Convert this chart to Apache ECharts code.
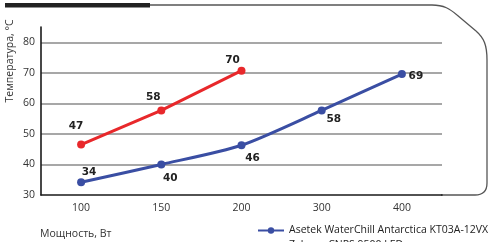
<!DOCTYPE html>
<html>
<head>
<meta charset="utf-8">
<script src="https://cdn.jsdelivr.net/npm/echarts@6/dist/echarts.min.js"></script>
<style>
  html, body { margin: 0; padding: 0; background: #fff; }
  #chart { width: 488px; height: 242px; }
</style>
</head>
<body>
<div id="chart"></div>
<script>
// мощность, Вт (категории)
var POWER = ["100", "150", "200", "300", "400"];
// температура, °C — положение точек и подписи
var ASETEK = [34.2, 40, 46.3, 57.7, 69.6];
var ASETEK_TXT = ["34", "40", "46", "58", "69"];
var ZALMAN = [46.5, 57.7, 70.7];
var ZALMAN_TXT = ["47", "58", "70"];
var Y_MIN = 30, Y_MAX = 85, Y_STEP = 10;
var NAMES = ["Asetek WaterChill Antarctica KT03A-12VX", "Zalman CNPS 9500 LED"];

var BLUE = "#3a4ea3", RED = "#e8282b";
var FONT = "'Open Sans', 'DejaVu Sans', sans-serif";

// смещения подписей от точек
var ASETEK_OFF = [[8, -10], [9, 14], [11, 13], [12, 9], [14, 2]];
var ZALMAN_OFF = [[-5, -18], [-8, -13], [-9, -10]];

function items(vals, offs) {
  return vals.map(function (v, i) {
    return { value: v, label: { offset: offs[i] } };
  });
}

// рамка справа и сверху
var FRAME = { fill: null, stroke: "#555", lineWidth: 1.3 };
function ln(x1, y1, x2, y2) {
  return { type: "line", shape: { x1: x1, y1: y1, x2: x2, y2: y2 }, style: FRAME };
}
function bz(x1, y1, c1x, c1y, c2x, c2y, x2, y2) {
  return { type: "bezierCurve",
           shape: { x1: x1, y1: y1, cpx1: c1x, cpy1: c1y, cpx2: c2x, cpy2: c2y, x2: x2, y2: y2 },
           style: FRAME };
}
// легенда: по одной строке, вторая обрезана краем
function leg(name, top) {
  return {
    left: 252, top: top, itemWidth: 26, itemHeight: 8,
    textStyle: { fontFamily: FONT, fontSize: 10.5, color: "#222" },
    data: [name]
  };
}

var chart = echarts.init(document.getElementById("chart"));
chart.setOption({
  animation: false,
  backgroundColor: "#fff",
  grid: { left: 41, right: 46, top: 27, bottom: 47 },
  legend: [leg(NAMES[0], 220), leg(NAMES[1], 235)],
  xAxis: {
    type: "category", data: POWER, boundaryGap: true,
    axisLine: { lineStyle: { color: "#1a1a1a", width: 1.6 } },
    axisTick: { alignWithLabel: true, length: 3, lineStyle: { color: "#333" } },
    axisLabel: { fontFamily: FONT, fontSize: 10.5, color: "#333", margin: 8 }
  },
  yAxis: {
    type: "value", min: Y_MIN, max: Y_MAX, interval: Y_STEP,
    axisLine: { show: true, lineStyle: { color: "#1a1a1a", width: 1.6 } },
    axisTick: { show: false },
    axisLabel: { fontFamily: FONT, fontSize: 10.5, color: "#333", margin: 6,
                 showMaxLabel: false },
    splitLine: { showMinLine: false, showMaxLine: false,
                 lineStyle: { color: "#8a8a8a", width: 1.5 } }
  },
  graphic: [
    { type: "rect", shape: { x: 5, y: 3, width: 145, height: 4.5 },
      style: { fill: "#222" } },
    ln(150, 5, 432, 5),
    bz(432, 5, 444, 5, 450, 9, 457, 15),
    ln(457, 15, 476, 31),
    bz(476, 31, 484, 38, 487, 45, 487, 60),
    ln(487, 60, 487, 183),
    bz(487, 183, 487, 191, 483, 195, 475, 195),
    ln(475, 195, 441, 195),
    { type: "text", x: 10, y: 61, rotation: Math.PI / 2,
      style: { text: "Температура, °C", fontFamily: FONT, fontSize: 10.5,
               fill: "#333", align: "center", verticalAlign: "middle" } },
    { type: "text", x: 40, y: 234,
      style: { text: "Мощность, Вт", fontFamily: FONT, fontSize: 10.5,
               fill: "#333", align: "left", verticalAlign: "middle" } }
  ],
  series: [
    {
      name: NAMES[0],
      type: "line", data: items(ASETEK, ASETEK_OFF), smooth: 0.25,
      symbol: "circle", symbolSize: 8,
      itemStyle: { color: BLUE }, lineStyle: { color: BLUE, width: 3 },
      label: {
        show: true, position: "inside",
        fontFamily: "'DejaVu Sans', sans-serif", fontWeight: "bold",
        fontSize: 10.5, color: "#222",
        formatter: function (p) { return ASETEK_TXT[p.dataIndex]; }
      }
    },
    {
      name: NAMES[1],
      type: "line", data: items(ZALMAN, ZALMAN_OFF),
      symbol: "circle", symbolSize: 8,
      itemStyle: { color: RED }, lineStyle: { color: RED, width: 3 },
      label: {
        show: true, position: "inside",
        fontFamily: "'DejaVu Sans', sans-serif", fontWeight: "bold",
        fontSize: 10.5, color: "#222",
        formatter: function (p) { return ZALMAN_TXT[p.dataIndex]; }
      }
    }
  ]
});
</script>
</body>
</html>
